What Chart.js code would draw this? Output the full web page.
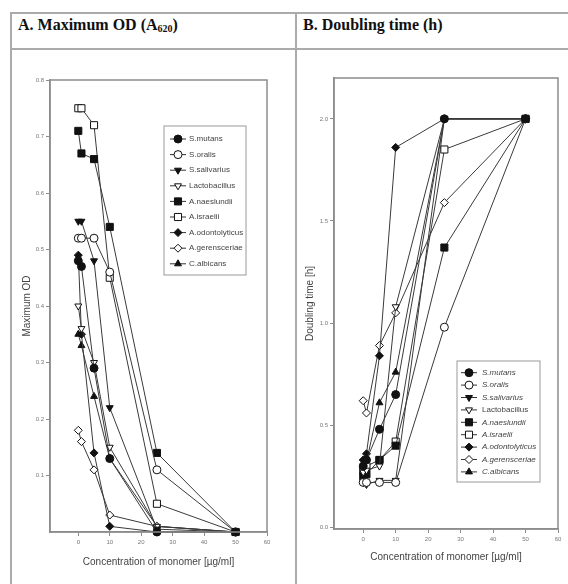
<!DOCTYPE html>
<html>
<head>
<meta charset="utf-8">
<script src="https://cdn.jsdelivr.net/npm/chart.js@4.4.1/dist/chart.umd.min.js"></script>
<style>
body{margin:0;background:#fff;width:568px;height:584px;overflow:hidden;position:relative;}
.ln{position:absolute;background:#ababab;}
.hd{position:absolute;top:16px;font:bold 16px "Liberation Serif","Times New Roman",serif;color:#111;}
.hd sub{font-size:10px;vertical-align:-2px;}
canvas{position:absolute;}
</style>
</head>
<body>
<div class="ln" style="left:10px;top:12px;width:2px;height:572px"></div>
<div class="ln" style="left:10px;top:12px;width:558px;height:2px"></div>
<div class="ln" style="left:10px;top:48px;width:558px;height:2px"></div>
<div class="ln" style="left:295px;top:12px;width:2px;height:572px"></div>
<div class="hd" style="left:18px">A. Maximum OD (A<sub>620</sub>)</div>
<div class="hd" style="left:303px">B. Doubling time (h)</div>
<canvas id="odChart" width="283" height="534" style="left:12px;top:50px"></canvas>
<canvas id="dtChart" width="270" height="534" style="left:298px;top:50px"></canvas>
<script>
// concentrations of monomer (ug/ml)
const conc = [0, 1, 5, 10, 25, 50];
const species = ['S.mutans','S.oralis','S.salivarius','Lactobacillus','A.naeslundii','A.israelii','A.odontolyticus','A.gerensceriae','C.albicans'];

// A. maximum OD
const odMutans   = [0.48, 0.47, 0.29, 0.13, 0.00, 0.00];
const odOralis   = [0.52, 0.52, 0.52, 0.46, 0.11, 0.00];
const odSaliv    = [0.55, 0.55, 0.48, 0.22, 0.005, 0.00];
const odLacto    = [0.40, 0.36, 0.30, 0.15, 0.01, 0.00];
const odNaesl    = [0.71, 0.67, 0.66, 0.54, 0.14, 0.00];
const odIsrael   = [0.75, 0.75, 0.72, 0.45, 0.05, 0.00];
const odOdonto   = [0.49, 0.35, 0.14, 0.01, 0.00, 0.00];
const odGerens   = [0.18, 0.16, 0.11, 0.03, 0.01, 0.00];
const odAlbicans = [0.35, 0.33, 0.24, 0.13, 0.01, 0.00];

// B. doubling time (h)
const dtMutans   = [0.30, 0.33, 0.48, 0.65, 2.00, 2.00];
const dtOralis   = [0.22, 0.22, 0.22, 0.22, 0.98, 2.00];
const dtSaliv    = [0.22, 0.21, 0.23, 0.23, 2.00, 2.00];
const dtLacto    = [0.27, 0.28, 0.30, 1.08, 2.00, 2.00];
const dtNaesl    = [0.25, 0.26, 0.33, 0.40, 1.37, 2.00];
const dtIsrael   = [0.28, 0.30, 0.33, 0.42, 1.85, 2.00];
const dtOdonto   = [0.33, 0.36, 0.84, 1.86, 2.00, 2.00];
const dtGerens   = [0.62, 0.56, 0.89, 1.05, 1.59, 2.00];
const dtAlbicans = [0.30, 0.32, 0.61, 0.76, 2.00, 2.00];

const xTicks = [0, 10, 20, 30, 40, 50, 60];
const odTicks = [0.1, 0.2, 0.3, 0.4, 0.5, 0.6, 0.7, 0.8];
const dtTicks = [0.0, 0.5, 1.0, 1.5, 2.0];

const odSeries = [odMutans, odOralis, odSaliv, odLacto, odNaesl, odIsrael, odOdonto, odGerens, odAlbicans];
const dtSeries = [dtMutans, dtOralis, dtSaliv, dtLacto, dtNaesl, dtIsrael, dtOdonto, dtGerens, dtAlbicans];

// marker look per species: filled / open alternating
const markers = [
  {style:'circle', rot:0, fill:'#111'},
  {style:'circle', rot:0, fill:'#fff'},
  {style:'triangle', rot:180, fill:'#111'},
  {style:'triangle', rot:180, fill:'#fff'},
  {style:'rect', rot:0, fill:'#111'},
  {style:'rect', rot:0, fill:'#fff'},
  {style:'rectRot', rot:0, fill:'#111'},
  {style:'rectRot', rot:0, fill:'#fff'},
  {style:'triangle', rot:0, fill:'#111'}
];

function buildSets(series, r){
  return series.map((vals, i) => ({
    label: species[i],
    data: conc.map((c, j) => ({x: c, y: vals[j]})),
    borderColor: '#3a3a3a', borderWidth: 1, tension: 0, clip: false,
    pointStyle: markers[i].style, pointRotation: markers[i].rot,
    pointBackgroundColor: markers[i].fill, pointBorderColor: '#111',
    pointBorderWidth: 1, pointRadius: markers[i].style === 'rect' ? r + 1 : r
  }));
}

const frame = {
  id: 'frame',
  afterDatasetsDraw(chart){
    const a = chart.chartArea, ctx = chart.ctx;
    ctx.save();
    ctx.strokeStyle = '#8c8c8c'; ctx.lineWidth = 1.5;
    ctx.strokeRect(a.left, a.top, a.right - a.left, a.bottom - a.top);
    ctx.restore();
  }
};

const boxLegend = {
  id: 'boxLegend',
  afterDraw(chart, args, o){
    const ctx = chart.ctx;
    ctx.save();
    ctx.fillStyle = '#fff';
    ctx.fillRect(o.x, o.y, o.w, o.h);
    ctx.strokeStyle = '#999'; ctx.lineWidth = 1;
    ctx.strokeRect(o.x, o.y, o.w, o.h);
    chart.data.datasets.forEach((ds, i) => {
      const y = o.y0 + i * o.step;
      ctx.strokeStyle = '#333'; ctx.lineWidth = 1;
      ctx.beginPath(); ctx.moveTo(o.mx - 8, y); ctx.lineTo(o.mx + 8, y); ctx.stroke();
      ctx.fillStyle = ds.pointBackgroundColor; ctx.strokeStyle = '#111';
      Chart.helpers.drawPoint(ctx, {pointStyle: ds.pointStyle, rotation: ds.pointRotation, radius: ds.pointRadius, borderWidth: 1}, o.mx, y);
      const ital = o.italic && ds.label !== 'Lactobacillus';
      ctx.font = (ital ? 'italic ' : '') + '8px "Liberation Sans", Arial, sans-serif';
      ctx.fillStyle = '#444'; ctx.textBaseline = 'middle';
      ctx.fillText(ds.label, o.tx, y);
    });
    ctx.restore();
  }
};

function makeChart(id, sets, p){
  return new Chart(document.getElementById(id), {
    type: 'line',
    data: { datasets: sets },
    plugins: [frame, boxLegend],
    options: {
      responsive: false, animation: false,
      layout: { padding: p.pad },
      plugins: { legend: {display: false}, tooltip: {enabled: false}, boxLegend: p.legend },
      scales: {
        x: {
          type: 'linear', min: -9, max: 60,
          afterBuildTicks: s => { s.ticks = xTicks.map(v => ({value: v})); },
          afterFit: s => { s.height = p.xh; },
          border: {color: '#8c8c8c', width: 1.5},
          grid: {display: true, drawOnChartArea: false, tickLength: 4, color: '#8c8c8c'},
          ticks: {color: '#777', padding: 3, maxRotation: 0, font: {size: 6, family: '"Liberation Sans", Arial'}},
          title: {display: true, text: 'Concentration of monomer [µg/ml]', color: '#444', padding: {top: 4, bottom: 4},
                  font: {size: 10, family: '"Liberation Sans", Arial'}}
        },
        y: {
          min: p.ymin, max: p.ymax,
          afterBuildTicks: s => { s.ticks = p.yTicks.map(v => ({value: v})); },
          afterFit: s => { s.width = p.yw; },
          border: {color: '#8c8c8c', width: 1.5},
          grid: {display: true, drawOnChartArea: false, tickLength: 4, color: '#8c8c8c'},
          ticks: {color: '#777', padding: 2, font: {size: 6, family: '"Liberation Sans", Arial'},
                  callback: v => v.toFixed(1)},
          title: {display: true, text: p.ytitle, color: '#444', padding: {top: 4, bottom: 4},
                  font: {size: 10, family: '"Liberation Sans", Arial'}}
        }
      }
    }
  });
}

makeChart('odChart', buildSets(odSeries, 4), {
  pad: {left: 5, top: 30, right: 28, bottom: 12}, xh: 40, yw: 33,
  ymin: 0, ymax: 0.8, yTicks: odTicks, ytitle: 'Maximum OD',
  legend: {x: 152, y: 76, w: 82, h: 149, y0: 89, step: 15.6, mx: 166, tx: 177, italic: false}
});

makeChart('dtChart', buildSets(dtSeries, 4), {
  pad: {left: 2, top: 28, right: 10, bottom: 17}, xh: 38, yw: 34,
  ymin: -0.008, ymax: 2.2, yTicks: dtTicks, ytitle: 'Doubling time [h]',
  legend: {x: 159, y: 311, w: 83, h: 121, y0: 322.7, step: 12.4, mx: 171, tx: 184, italic: true}
});
</script>
</body>
</html>
